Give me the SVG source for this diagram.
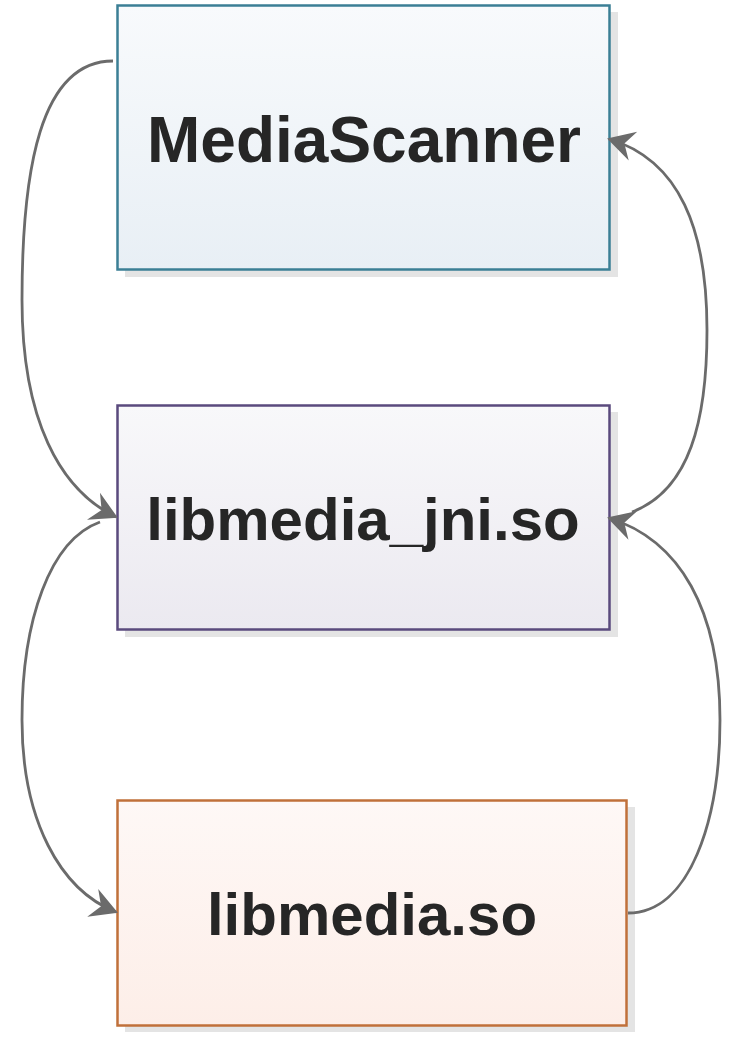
<svg xmlns="http://www.w3.org/2000/svg" width="740" height="1040" viewBox="0 0 740 1040">
<defs>
<linearGradient id="g1" x1="0" y1="0" x2="0" y2="1"><stop offset="0" stop-color="#f8fafc"/><stop offset="1" stop-color="#e8eff5"/></linearGradient>
<linearGradient id="g2" x1="0" y1="0" x2="0" y2="1"><stop offset="0" stop-color="#f8f8fa"/><stop offset="1" stop-color="#ebe9f0"/></linearGradient>
<linearGradient id="g3" x1="0" y1="0" x2="0" y2="1"><stop offset="0" stop-color="#fef8f6"/><stop offset="1" stop-color="#fdeee8"/></linearGradient>
<marker id="arr" viewBox="-28 -16 31 32" refX="0" refY="0" markerWidth="31" markerHeight="32" markerUnits="userSpaceOnUse" orient="auto">
<path d="M2,0 L-25,-15 L-16,0 L-25,15 Z" fill="#6b6b6b"/>
</marker>
<style>
.shadow{fill:#e4e4e4}
.lbl{font-family:"Liberation Sans",Arial,Helvetica,sans-serif;font-weight:bold;fill:#262626;text-anchor:middle}
.conn{fill:none;stroke:#6b6b6b;stroke-width:2.8}
</style>
</defs>
<g id="node-mediascanner">
<rect class="shadow" x="125" y="12" width="493" height="265"/>
<rect x="117.5" y="5.5" width="492" height="264" fill="url(#g1)" stroke="#3b7f95" stroke-width="2.5"/>
<text class="lbl" x="364" y="162" font-size="64">MediaScanner</text>
</g>
<g id="node-libmedia-jni">
<rect class="shadow" x="125" y="412" width="493" height="225"/>
<rect x="117.5" y="405.5" width="492" height="224" fill="url(#g2)" stroke="#5a4a7d" stroke-width="2.5"/>
<text class="lbl" x="363" y="540" font-size="60">libmedia_jni.so</text>
</g>
<g id="node-libmedia">
<rect class="shadow" x="125" y="807" width="510" height="225"/>
<rect x="117.5" y="800.5" width="509" height="225" fill="url(#g3)" stroke="#c0703a" stroke-width="2.5"/>
<text class="lbl" x="372" y="935" font-size="60">libmedia.so</text>
</g>
<g id="connectors">
<path class="conn" d="M113 61 C40 61 22 170 22 300 C22 420 60 490 116 517" marker-end="url(#arr)"/>
<path class="conn" d="M100 522 C50 540 22 620 22 720 C22 820 60 890 116 912" marker-end="url(#arr)"/>
<path class="conn" d="M628 913 C690 913 720 820 720 720 C720 610 680 540 609 518" marker-end="url(#arr)"/>
<path class="conn" d="M632 512 C690 490 707 420 707 330 C707 230 680 160 609 139" marker-end="url(#arr)"/>
</g>
</svg>
